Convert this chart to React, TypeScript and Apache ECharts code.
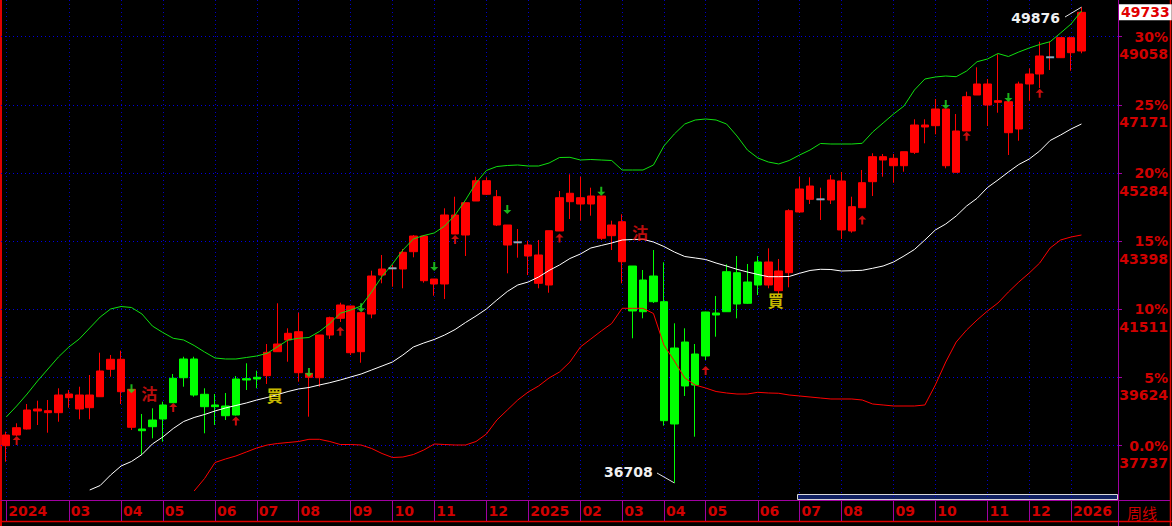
import React, { useEffect, useRef } from "react";
import * as echarts from "echarts";

// ---------- data ----------
const MONTH_STARTS = [0, 6, 11, 15, 20, 24, 28, 33, 37, 41, 46, 50, 55, 59, 63, 67, 72, 76, 80, 85, 89, 94, 98, 102];
const MONTH_LABELS = ["2024", "03", "04", "05", "06", "07", "08", "09", "10", "11", "12", "2025", "02", "03", "04", "05", "06", "07", "08", "09", "10", "11", "12", "2026"];
const EMPTY_SLOTS = 3;

const BASE_PRICE = 37737;
const PCT_STEP = 5;
const LAST_CLOSE = 49733;
const HIGH_MARK_INDEX = 103;
const HIGH_MARK_VALUE = 49876;
const LOW_MARK_INDEX = 64;
const LOW_MARK_VALUE = 36708;

const OPEN = [
  37737, 38033, 38199, 38698, 38651, 38651, 39066, 38753, 38789, 39093,
  39852, 39232, 38246, 38199, 38448, 38864, 39603, 40137, 40137, 39160,
  38864, 38836, 39583, 39592, 39630, 39675, 40339, 40663, 39758, 39630,
  39619, 40801, 41263, 40311, 40339, 41382, 42462, 42647, 42628, 43107,
  42304, 42213, 42213, 43597, 43569, 44510, 44696, 43846, 43292, 43367,
  42988, 42232, 42185, 43680, 44491, 44427, 44427, 43478, 43550, 42830,
  42711, 42324, 42434, 41723, 40441, 40607, 40275, 41438, 41410, 42553,
  42526, 42268, 42822, 42185, 42027, 42526, 44206, 44557, 44557, 44538,
  43708, 43680, 44325, 45045, 45645, 45487, 45487, 45858, 46559, 46595,
  45487, 45305, 46448, 47444, 47168, 47242, 46401, 46503, 47749, 48026,
  48488, 48477, 48615, 48662,
];
const HIGH = [
  38125, 38357, 38891, 38983, 39002, 39326, 39279, 39370, 39694, 40311,
  40248, 40367, 39306, 38615, 38772, 38955, 39722, 40200, 40200, 39326,
  39168, 39196, 39666, 40018, 39813, 40552, 41679, 40987, 41419, 39741,
  40801, 41308, 41695, 41604, 41419, 42581, 43016, 42739, 43182, 43569,
  43569, 42351, 44308, 44629, 44463, 45183, 45166, 44815, 43846, 43735,
  43411, 43431, 43688, 44787, 45249, 45183, 44879, 44649, 43965, 44142,
  42711, 42600, 43154, 42814, 41125, 40987, 40552, 41446, 41881, 42758,
  42988, 42767, 42988, 43201, 42905, 44281, 45183, 45166, 44879, 45230,
  45313, 44629, 45368, 45831, 45811, 45811, 45875, 46772, 46772, 47334,
  47057, 46918, 47536, 48211, 47887, 48571, 47259, 47813, 48183, 48920,
  48920, 49031, 49031, 49876,
];
const LOW = [
  37294, 38006, 38186, 38310, 38097, 38401, 38789, 38468, 38468, 39093,
  39647, 38891, 38172, 37480, 37942, 37848, 38919, 39370, 39093, 38080,
  38310, 38448, 38573, 39279, 39326, 39445, 40331, 40062, 39509, 38540,
  39370, 40691, 41161, 40248, 40034, 41263, 42232, 42138, 42094, 42952,
  42249, 41889, 41798, 43597, 42988, 44510, 44676, 43818, 42509, 42941,
  42462, 42094, 41972, 43680, 44012, 43965, 44103, 43431, 43154, 42232,
  40710, 41263, 41687, 38291, 36708, 39113, 37986, 40109, 40754, 41438,
  41263, 41659, 41908, 42094, 41936, 42121, 44178, 44427, 43984, 44427,
  43459, 43633, 44317, 44649, 45183, 45017, 45321, 45811, 46107, 46357,
  45415, 45305, 46448, 47444, 46586, 46954, 45784, 46179, 47287, 47638,
  48136, 48477, 48117, 48599,
];
const CLOSE = [
  38033, 38235, 38725, 38753, 38706, 39140, 39168, 39140, 39140, 39805,
  40129, 40129, 39298, 38152, 38263, 38476, 38927, 39619, 39140, 38817,
  38817, 38567, 38587, 39556, 39583, 40322, 40552, 40848, 40892, 39741,
  40801, 41280, 41632, 41604, 41419, 42434, 42628, 42647, 43090, 43541,
  43541, 42351, 44123, 44123, 44463, 45072, 45072, 44629, 43846, 43367,
  43292, 43016, 43688, 44602, 44724, 44602, 44649, 44649, 43846, 43937,
  41466, 41446, 41723, 38429, 38338, 39390, 39417, 40220, 41355, 41446,
  41659, 41679, 42185, 42822, 42573, 44242, 44843, 44925, 44557, 45092,
  45064, 44353, 45017, 45737, 45737, 45692, 45875, 46614, 46614, 47057,
  47057, 46448, 47397, 47749, 47749, 47287, 47259, 47749, 48026, 48524,
  48488, 49031, 49031, 49733,
];

const UPPER = [
  38531, 38836, 39168, 39528, 39860, 40192, 40469, 40691, 40995, 41299,
  41521, 41590, 41562, 41383, 41050, 40870, 40710, 40663, 40511, 40331,
  40165, 40137, 40137, 40178, 40220, 40295, 40477, 40663, 40710, 40732,
  40898, 41120, 41402, 41493, 41604, 41991, 42421, 42767, 43154, 43459,
  43555, 43625, 43818, 44123, 44538, 45009, 45355, 45465, 45493, 45507,
  45479, 45479, 45562, 45714, 45720, 45645, 45659, 45645, 45631, 45368,
  45368, 45368, 45507, 46033, 46365, 46642, 46752, 46780, 46752, 46642,
  46310, 45922, 45701, 45590, 45535, 45631, 45784, 45922, 46102, 46088,
  46088, 46088, 46107, 46420, 46669, 46918, 47140, 47583, 47887, 47943,
  47970, 47951, 48109, 48366, 48441, 48593, 48510, 48635, 48745, 48842,
  48920, 49161, 49410, 49770,
];
const MIDDLE = [
  null, null, null, null, null, null, null, null, 36511, 36635,
  36926, 37175, 37300, 37493, 37784, 37978, 38213, 38407, 38518, 38601,
  38698, 38781, 38850, 38919, 39002, 39071, 39154, 39237, 39307, 39348,
  39417, 39481, 39556, 39639, 39722, 39832, 39943, 40054, 40248, 40469,
  40580, 40677, 40801, 40953, 41147, 41327, 41521, 41770, 42005, 42185,
  42268, 42407, 42587, 42739, 42919, 43043, 43209, 43279, 43348, 43431,
  43445, 43450, 43375, 43251, 43099, 42974, 42933, 42891, 42794, 42711,
  42620, 42545, 42476, 42415, 42415, 42421, 42509, 42587, 42620, 42614,
  42573, 42581, 42592, 42648, 42711, 42822, 42988, 43168, 43431, 43708,
  43874, 44095, 44372, 44585, 44884, 45092, 45313, 45521, 45673, 45894,
  46185, 46337, 46503, 46642,
];
const LOWER = [
  null, null, null, null, null, null, null, null, null, null,
  null, null, null, null, null, null, null, null, 36483, 36829,
  37272, 37369, 37452, 37563, 37673, 37756, 37798, 37826, 37853, 37914,
  37914, 37853, 37770, 37770, 37756, 37660, 37521, 37410, 37424, 37493,
  37618, 37784, 37770, 37756, 37756, 37853, 38061, 38448, 38725, 39002,
  39223, 39390, 39611, 39777, 40054, 40469, 40691, 40912, 41120, 41540,
  41540, 41540, 41396, 40524, 40082, 39611, 39417, 39334, 39237, 39196,
  39168, 39168, 39215, 39196, 39188, 39140, 39113, 39085, 39057, 39030,
  39030, 39030, 39002, 38891, 38864, 38836, 38836, 38836, 38864, 39417,
  40054, 40607, 40940, 41216, 41466, 41687, 41991, 42268, 42517, 42794,
  43209, 43431, 43514, 43569,
];

const DOJI_INDEX = [37, 49, 78, 100];
const DOWN_ARROW_INDEX = [12, 29, 34, 41, 48, 57, 90, 96];
const DOWN_ARROW_PRICE = [39315, 39763, 41554, 42697, 44275, 44782, 47181, 47375];
const UP_ARROW_INDEX = [1, 16, 22, 32, 43, 53, 67, 82, 92, 99];
const UP_ARROW_PRICE = [37881, 38794, 38421, 40906, 43445, 43486, 39819, 43984, 46301, 47491];
const SELL_TEXT_INDEX = [14, 61];
const SELL_TEXT_PRICE = [39196, 43661];
const BUY_TEXT_INDEX = [26, 74];
const BUY_TEXT_PRICE = [39140, 41770];

// ---------- layout / styles ----------
const W = 1172;
const H = 526;
const Y_MAX = 50074;
const PX_PER_POINT = 1 / 27.68;
const AXIS_Y = 500;
const RED = "#ff0000";
const GREEN = "#00ff00";
const LABEL_RED = "#d00000";
const PURPLE = "#a000a0";
const GRID_BLUE = "#0000e0";
const CYAN = "#70d4f0";
const FONT = "DejaVu Sans";

const DOWN_ARROW = "path://M3,0 L5,0 L5,5 L8,5 L4,9 L0,5 L3,5 Z";
const UP_ARROW = "path://M4,0 L8,4 L5,4 L5,9 L3,9 L3,4 L0,4 Z";

const isMonthStart = (index: number) => MONTH_STARTS.indexOf(index) >= 0;

export default function App() {
  const ref = useRef<HTMLDivElement>(null);

  useEffect(() => {
    if (!ref.current) return;
    const chart = echarts.init(ref.current, undefined, { renderer: "svg" });

    const nCat = OPEN.length + EMPTY_SLOTS;
    const categories = Array.from({ length: nCat }, (_, i) => String(i));

    const candleData = OPEN.map((o, i) => {
      const item: any = { value: [o, CLOSE[i], LOW[i], HIGH[i]] };
      if (DOJI_INDEX.indexOf(i) >= 0) {
        item.itemStyle = { color: RED, color0: RED, borderColor: RED, borderColor0: RED };
      }
      return item;
    });

    // tick step = 5% of base; min is a multiple of the step
    const step = (BASE_PRICE * PCT_STEP) / 100;
    const yMin = step * (Math.round(BASE_PRICE / step) - 1);
    const plotBottom = (Y_MAX - yMin) * PX_PER_POINT; // pixel y of yMin
    const gridBottom = H - plotBottom;
    const axisOffset = AXIS_Y - plotBottom; // negative: lift x axis to y=500

    const textLabel = (txt: string, color: string) => ({
      show: true,
      formatter: txt,
      position: "inside",
      offset: [-3, 0],
      color,
      fontSize: 16,
      fontWeight: "bold",
      fontFamily: "Noto Sans CJK JP",
    });

    const option: any = {
      animation: false,
      backgroundColor: "#000",
      grid: { left: 1, right: 54, top: 0, bottom: gridBottom, containLabel: false },
      xAxis: [
        {
          type: "category",
          data: categories,
          boundaryGap: true,
          position: "bottom",
          offset: axisOffset,
          axisLine: { show: true, lineStyle: { color: PURPLE, width: 1 } },
          axisTick: {
            show: true,
            alignWithLabel: true,
            interval: isMonthStart,
            length: 21,
            lineStyle: { color: PURPLE, width: 1 },
          },
          axisLabel: {
            show: true,
            interval: isMonthStart,
            formatter: (_v: string, index: number) => {
              const k = MONTH_STARTS.indexOf(index);
              return k >= 0 ? MONTH_LABELS[k] : "";
            },
            color: LABEL_RED,
            fontFamily: FONT,
            fontWeight: "bold",
            fontSize: 14,
            align: "left",
            verticalAlign: "middle",
            margin: 11,
            padding: [0, 0, 0, 2],
          },
          splitLine: { show: false },
        },
        {
          type: "category",
          data: categories,
          boundaryGap: true,
          position: "top",
          axisLine: { show: false },
          axisLabel: { show: false },
          axisTick: {
            show: true,
            inside: true,
            alignWithLabel: true,
            interval: isMonthStart,
            length: AXIS_Y,
            lineStyle: { color: "#0000c8", width: 1, type: [1, 3] },
          },
          splitLine: { show: false },
        },
      ],
      yAxis: {
        type: "value",
        position: "right",
        min: yMin,
        max: Y_MAX,
        interval: step,
        axisLine: { show: true, lineStyle: { color: PURPLE, width: 1 } },
        axisTick: { show: true, length: 4, lineStyle: { color: PURPLE } },
        axisLabel: {
          show: true,
          showMinLabel: false,
          showMaxLabel: false,
          formatter: (v: number) => {
            const pct = Math.round((v / BASE_PRICE - 1) * 100);
            if (pct < 0) return "";
            const pctText = pct === 0 ? "0.0%" : pct + "%";
            return "\n" + pctText + "\n" + Math.round(v);
          },
          align: "right",
          verticalAlign: "middle",
          margin: 50,
          color: LABEL_RED,
          fontFamily: FONT,
          fontWeight: "bold",
          fontSize: 14,
          lineHeight: 17.5,
        },
        splitLine: {
          show: true,
          showMinLine: false,
          showMaxLine: false,
          lineStyle: { color: GRID_BLUE, width: 1, type: [1, 3] },
        },
      },
      series: [
        {
          type: "candlestick",
          name: "price",
          data: candleData,
          barWidth: 8,
          z: 2,
          itemStyle: {
            color: RED,
            color0: GREEN,
            borderColor: RED,
            borderColor0: GREEN,
            borderWidth: 1,
          },
          markLine: {
            silent: true,
            symbol: ["none", "none"],
            data: [
              {
                yAxis: LAST_CLOSE,
                lineStyle: { color: "rgba(0,0,0,0)", width: 0 },
                label: {
                  show: true,
                  position: "end",
                  distance: 1,
                  formatter: String(LAST_CLOSE),
                  backgroundColor: "#ffffff",
                  color: "#e00000",
                  fontFamily: FONT,
                  fontWeight: "bold",
                  fontSize: 14,
                  lineHeight: 15,
                  padding: [1, 2, 0, 2],
                },
              },
              [
                {
                  coord: [String(HIGH_MARK_INDEX), HIGH_MARK_VALUE],
                  lineStyle: { color: "#e0e0e0", width: 1, type: "solid" },
                  label: { show: false },
                },
                { x: 1065, y: 17 },
              ],
              [
                {
                  coord: [String(LOW_MARK_INDEX), LOW_MARK_VALUE],
                  lineStyle: { color: "#e0e0e0", width: 1, type: "solid" },
                  label: { show: false },
                },
                { x: 657, y: 473 },
              ],
            ],
          },
          markPoint: {
            silent: true,
            symbol: "circle",
            symbolSize: 1,
            itemStyle: { color: "rgba(0,0,0,0)" },
            data: [
              {
                coord: [String(HIGH_MARK_INDEX), HIGH_MARK_VALUE],
                label: {
                  show: true,
                  formatter: String(HIGH_MARK_VALUE),
                  position: "left",
                  distance: 21,
                  offset: [0, 10.5],
                  color: "#f0f0f0",
                  fontFamily: FONT,
                  fontWeight: "bold",
                  fontSize: 14,
                },
              },
              {
                coord: [String(LOW_MARK_INDEX), LOW_MARK_VALUE],
                label: {
                  show: true,
                  formatter: String(LOW_MARK_VALUE),
                  position: "left",
                  distance: 21,
                  offset: [0, -11],
                  color: "#f0f0f0",
                  fontFamily: FONT,
                  fontWeight: "bold",
                  fontSize: 14,
                },
              },
            ],
          },
        },
        {
          type: "line",
          name: "upper",
          data: UPPER,
          showSymbol: false,
          z: 3,
          lineStyle: { color: "#10e010", width: 1 },
          itemStyle: { color: "#10e010" },
        },
        {
          type: "line",
          name: "middle",
          data: MIDDLE,
          showSymbol: false,
          z: 3,
          lineStyle: { color: "#ffffff", width: 1 },
          itemStyle: { color: "#ffffff" },
        },
        {
          type: "line",
          name: "lower",
          data: LOWER,
          showSymbol: false,
          z: 3,
          lineStyle: { color: "#ff0000", width: 1 },
          itemStyle: { color: "#ff0000" },
        },
        {
          type: "scatter",
          name: "doji",
          data: DOJI_INDEX.map((i) => [i, CLOSE[i]]),
          symbol: "rect",
          symbolSize: [8, 2],
          z: 4,
          itemStyle: { color: CYAN },
        },
        {
          type: "scatter",
          name: "down-arrow",
          data: DOWN_ARROW_INDEX.map((i, k) => [i, DOWN_ARROW_PRICE[k]]),
          symbol: DOWN_ARROW,
          symbolSize: [8, 9],
          z: 4,
          itemStyle: { color: "#20e020" },
        },
        {
          type: "scatter",
          name: "up-arrow",
          data: UP_ARROW_INDEX.map((i, k) => [i, UP_ARROW_PRICE[k]]),
          symbol: UP_ARROW,
          symbolSize: [8, 9],
          z: 4,
          itemStyle: { color: "#ff1010" },
        },
        {
          type: "scatter",
          name: "sell-text",
          data: SELL_TEXT_INDEX.map((i, k) => [i, SELL_TEXT_PRICE[k]]),
          symbolSize: 1,
          z: 5,
          itemStyle: { color: "rgba(0,0,0,0)" },
          label: textLabel("沽", "#ee1010"),
        },
        {
          type: "scatter",
          name: "buy-text",
          data: BUY_TEXT_INDEX.map((i, k) => [i, BUY_TEXT_PRICE[k]]),
          symbolSize: 1,
          z: 5,
          itemStyle: { color: "rgba(0,0,0,0)" },
          label: textLabel("買", "#ffee00"),
        },
      ],
      graphic: [
        { type: "line", silent: true, shape: { x1: 1, y1: 0, x2: 1, y2: H }, style: { stroke: "#e00000", lineWidth: 2 } },
        { type: "line", silent: true, shape: { x1: 1170.5, y1: 0, x2: 1170.5, y2: H }, style: { stroke: "#e00000", lineWidth: 1.5 } },
        { type: "line", silent: true, shape: { x1: 0, y1: 521.5, x2: W, y2: 521.5 }, style: { stroke: "#e00000", lineWidth: 1.5 } },
        { type: "line", silent: true, shape: { x1: 1118, y1: 500.5, x2: 1170, y2: 500.5 }, style: { stroke: PURPLE, lineWidth: 1 } },
        { type: "line", silent: true, shape: { x1: 1118.5, y1: 500, x2: 1118.5, y2: H }, style: { stroke: PURPLE, lineWidth: 1 } },
        {
          type: "rect",
          silent: true,
          shape: { x: 797.5, y: 494.5, width: 320, height: 5 },
          style: { fill: "#102060", stroke: "#d8d8d8", lineWidth: 1 },
        },
        {
          type: "text",
          silent: true,
          x: 1127,
          y: 512,
          style: {
            text: "周线",
            fill: LABEL_RED,
            font: "15px 'Noto Sans CJK SC'",
            verticalAlign: "middle",
            align: "left",
          },
        },
      ],
    };

    chart.setOption(option);
    return () => chart.dispose();
  }, []);

  return (
    <div
      ref={ref}
      style={{ position: "fixed", left: 0, top: 0, width: W, height: H, background: "#000" }}
    />
  );
}
